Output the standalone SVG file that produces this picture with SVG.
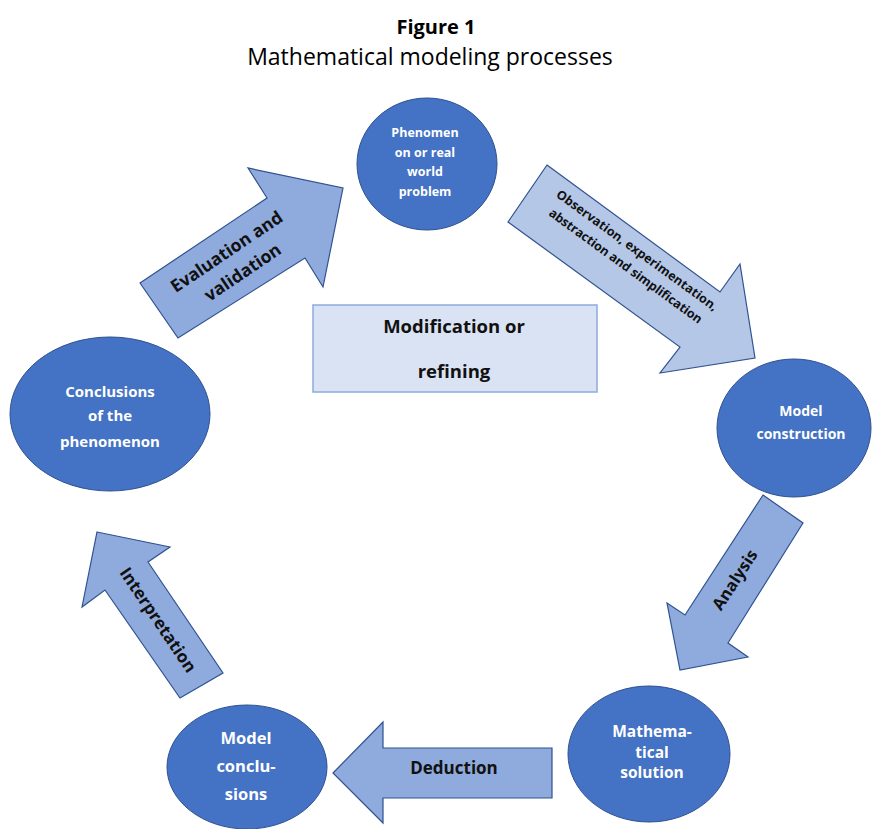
<svg xmlns="http://www.w3.org/2000/svg" width="872" height="829" viewBox="0 0 872 829">
<style>
.node{fill:#4472c4;stroke:#2f528f;stroke-width:1}
.nt{fill:#ffffff;font-family:"Open Sans","Liberation Sans",sans-serif;font-weight:bold;text-anchor:middle}
.arr{fill:#8faadc;stroke:#2f528f;stroke-width:1.2;stroke-linejoin:miter}
.arrl{fill:#b4c7e7;stroke:#2f528f;stroke-width:1.2}
.at{fill:#111111;font-family:"Open Sans","Liberation Sans",sans-serif;font-weight:bold;text-anchor:middle}
.title{fill:#000;font-family:"Open Sans","Liberation Sans",sans-serif;text-anchor:middle}
</style>
<rect width="872" height="829" fill="#ffffff"/>
<text class="title" x="436" y="34" font-size="20" font-weight="bold">Figure 1</text>
<text class="title" x="430" y="65" font-size="23">Mathematical modeling processes</text>

<g id="connectors">
  <g id="evaluation">
    <polygon class="arr" points="140,283 267,198 248,168 343,188 323,287 305,258 178,338"/>
    <g transform="translate(235.5,261.5) rotate(-34)">
      <text class="at" x="-2" y="-7" font-size="17.5">Evaluation and</text>
      <text class="at" x="0" y="19" font-size="17.5">validation</text>
    </g>
  </g>
  <g id="observation">
    <polygon class="arrl" points="547,165 720,292 740,264 755,358 660,373 680,347 508,222"/>
    <g transform="translate(631.5,258) rotate(36)">
      <text class="at" x="0" y="-5.2" font-size="12.5" textLength="196">Observation, experimentation,</text>
      <text class="at" x="0" y="14.2" font-size="12.5" textLength="186">abstraction and simplification</text>
    </g>
  </g>
  <g id="analysis">
    <polygon class="arr" points="763,495 803,523 728,643 748,657 680,670 667,603 685,615"/>
    <text class="at" font-size="16.5" transform="translate(735,580) rotate(-57)" y="5.5">Analysis</text>
  </g>
  <g id="deduction">
    <polygon class="arr" points="333,773 383,722 383,748 552,748 552,798 383,798 383,823"/>
    <text class="at" x="454" y="774" font-size="17">Deduction</text>
  </g>
  <g id="interpretation">
    <polygon class="arr" points="97,532 170,547 148,562 223,673 180,698 105,590 82,607"/>
    <text class="at" font-size="17" transform="translate(158,620) rotate(56)" y="5.8">Interpretation</text>
  </g>
</g>

<g id="modification">
  <rect x="313" y="305" width="284" height="87" fill="#dae3f3" stroke="#8faadc" stroke-width="1.5"/>
  <text class="at" x="454" y="333" font-size="18.5">Modification or</text>
  <text class="at" x="454" y="378" font-size="18.5">refining</text>
</g>

<g id="phenomenon">
  <ellipse class="node" cx="427" cy="164" rx="70" ry="66"/>
  <text class="nt" x="425" y="137" font-size="12.5">Phenomen</text>
  <text class="nt" x="425" y="157" font-size="12.5">on or real</text>
  <text class="nt" x="425" y="176" font-size="12.5">world</text>
  <text class="nt" x="425" y="196" font-size="12.5">problem</text>
</g>
<g id="model-construction">
  <ellipse class="node" cx="794" cy="428" rx="77" ry="69"/>
  <text class="nt" x="801" y="416" font-size="14">Model</text>
  <text class="nt" x="801" y="439" font-size="14">construction</text>
</g>
<g id="mathematical-solution">
  <ellipse class="node" cx="649" cy="754" rx="81" ry="68"/>
  <text class="nt" x="652" y="737" font-size="15.5">Mathema-</text>
  <text class="nt" x="652" y="758" font-size="15.5">tical</text>
  <text class="nt" x="652" y="778" font-size="15.5">solution</text>
</g>
<g id="model-conclusions">
  <ellipse class="node" cx="247" cy="767" rx="80" ry="62"/>
  <text class="nt" x="246" y="744" font-size="16.5">Model</text>
  <text class="nt" x="246" y="772" font-size="16.5">conclu-</text>
  <text class="nt" x="246" y="800" font-size="16.5">sions</text>
</g>
<g id="conclusions-phenomenon">
  <ellipse class="node" cx="110" cy="414" rx="100" ry="77"/>
  <text class="nt" x="110" y="397" font-size="15">Conclusions</text>
  <text class="nt" x="110" y="421" font-size="15">of the</text>
  <text class="nt" x="110" y="447" font-size="15">phenomenon</text>
</g>
</svg>
